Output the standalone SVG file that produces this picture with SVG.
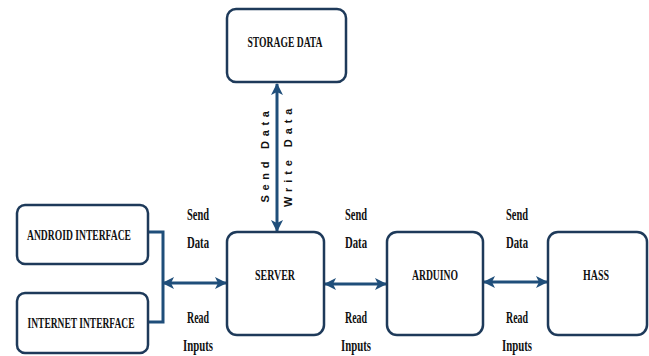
<svg xmlns="http://www.w3.org/2000/svg" width="649" height="356" viewBox="0 0 649 356">
<defs>
<marker id="ah" viewBox="0 0 12 12" refX="11" refY="6" markerWidth="12" markerHeight="12" markerUnits="userSpaceOnUse" orient="auto-start-reverse">
<path d="M0,0 L12,6 L0,12 L3,6 Z" fill="#1f4e7a"/>
</marker>
<style>
.box{fill:#fff;stroke:#1e3a5a;stroke-width:2.5}
.nt{font-family:"Liberation Serif","Times New Roman",serif;font-weight:bold;font-size:14px;fill:#111;text-anchor:middle}
.lb{font-family:"Liberation Serif","Times New Roman",serif;font-weight:bold;font-size:16px;fill:#111;text-anchor:middle}
.vt{font-family:"Liberation Sans",Arial,sans-serif;font-weight:bold;font-size:11px;fill:#111;text-anchor:middle;letter-spacing:1.5px}
.ln{fill:none;stroke:#1f4e7a;stroke-width:3}
.ar{fill:none;stroke:#1f4e7a;stroke-width:3;marker-start:url(#ah);marker-end:url(#ah)}
</style>
</defs>
<rect width="649" height="356" fill="#fff"/>
<g id="connectors">
<path class="ln" d="M148,232 H163 V322 H148"/>
<line class="ar" x1="163" y1="283" x2="226" y2="283"/>
<line class="ar" x1="325" y1="284" x2="386" y2="284"/>
<line class="ar" x1="484" y1="282" x2="547" y2="282"/>
<line class="ar" x1="277" y1="84" x2="277" y2="231"/>
</g>
<g id="storage">
<rect class="box" x="227" y="9" width="119" height="73" rx="9"/>
<text class="nt" x="285" y="47" textLength="75" lengthAdjust="spacingAndGlyphs">STORAGE DATA</text>
</g>
<g id="android">
<rect class="box" x="17" y="205" width="131" height="59" rx="8"/>
<text class="nt" x="79" y="240" textLength="104" lengthAdjust="spacingAndGlyphs">ANDROID INTERFACE</text>
</g>
<g id="internet">
<rect class="box" x="17" y="293" width="131" height="60" rx="8"/>
<text class="nt" x="81" y="328" textLength="107" lengthAdjust="spacingAndGlyphs">INTERNET INTERFACE</text>
</g>
<g id="server">
<rect class="box" x="227" y="232" width="97" height="103" rx="10"/>
<text class="nt" x="275" y="280" textLength="40" lengthAdjust="spacingAndGlyphs">SERVER</text>
</g>
<g id="arduino">
<rect class="box" x="387" y="232" width="96" height="103" rx="10"/>
<text class="nt" x="435" y="280" textLength="46" lengthAdjust="spacingAndGlyphs">ARDUINO</text>
</g>
<g id="hass">
<rect class="box" x="548" y="232" width="99" height="103" rx="10"/>
<text class="nt" x="596" y="280" textLength="26" lengthAdjust="spacingAndGlyphs">HASS</text>
</g>
<g id="labels">
<text class="lb" x="198" y="220" textLength="22" lengthAdjust="spacingAndGlyphs">Send</text>
<text class="lb" x="198" y="248" textLength="22" lengthAdjust="spacingAndGlyphs">Data</text>
<text class="lb" x="198" y="323" textLength="22" lengthAdjust="spacingAndGlyphs">Read</text>
<text class="lb" x="198" y="351" textLength="30" lengthAdjust="spacingAndGlyphs">Inputs</text>
<text class="lb" x="356" y="220" textLength="22" lengthAdjust="spacingAndGlyphs">Send</text>
<text class="lb" x="356" y="248" textLength="22" lengthAdjust="spacingAndGlyphs">Data</text>
<text class="lb" x="356" y="323" textLength="22" lengthAdjust="spacingAndGlyphs">Read</text>
<text class="lb" x="356" y="351" textLength="30" lengthAdjust="spacingAndGlyphs">Inputs</text>
<text class="lb" x="517" y="220" textLength="22" lengthAdjust="spacingAndGlyphs">Send</text>
<text class="lb" x="517" y="248" textLength="22" lengthAdjust="spacingAndGlyphs">Data</text>
<text class="lb" x="517" y="323" textLength="22" lengthAdjust="spacingAndGlyphs">Read</text>
<text class="lb" x="517" y="351" textLength="30" lengthAdjust="spacingAndGlyphs">Inputs</text>
<text class="vt" transform="translate(269,156) rotate(-90)" textLength="93" lengthAdjust="spacing">Send Data</text>
<text class="vt" transform="translate(292,157) rotate(-90)" textLength="100" lengthAdjust="spacing">Write Data</text>
</g>
</svg>
